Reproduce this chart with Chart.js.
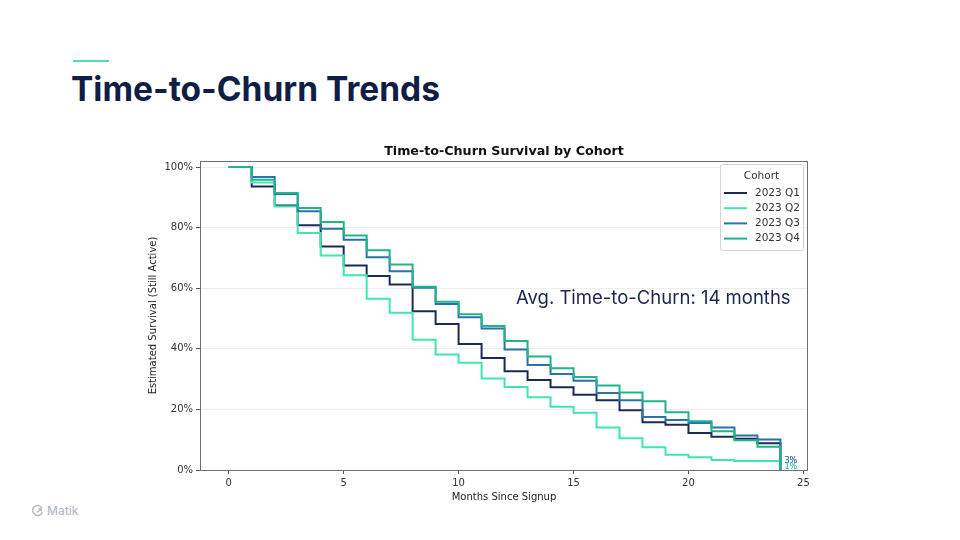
<!DOCTYPE html>
<html>
<head>
<meta charset="utf-8">
<script src="https://cdn.jsdelivr.net/npm/chart.js@4.4.3/dist/chart.umd.min.js"></script>
<style>
  body { margin: 0; background: #fff; }
  .slide { position: relative; width: 960px; height: 540px; overflow: hidden; font-family: Inter, sans-serif; }
  .accent { position: absolute; left: 73px; top: 60px; width: 36px; height: 2px; background: #4fdcb4; }
  h1 { position: absolute; left: 71px; top: 73px; margin: 0; font-size: 33.5px; line-height: 1; font-weight: 700; color: #111d45; white-space: nowrap; }
  .chartBox { position: absolute; left: 140px; top: 138px; width: 728px; height: 372px; }
  .note { position: absolute; left: 516px; top: 288px; font-size: 18.5px; line-height: 1; color: #1b2553; white-space: nowrap; }
  .logo { position: absolute; left: 31px; top: 503px; display: flex; align-items: center; gap: 3px; font-size: 12px; color: #b7bbc6; font-weight: 500; }
</style>
</head>
<body>
<div class="slide">
  <div class="accent"></div>
  <h1>Time-to-Churn Trends</h1>
  <div class="chartBox"><canvas id="churnChart"></canvas></div>
  <div class="note">Avg. Time-to-Churn: 14 months</div>
  <div class="logo">
    <svg width="13" height="13" viewBox="0 0 13 13">
      <path d="M11 4.2 A5 5 0 1 0 11.3 8.2" fill="none" stroke="#b7bbc6" stroke-width="1.5"/>
      <path d="M6.2 8.6 L10 4.8 M7.4 4.6 L10.2 4.6 L10.2 7.4" fill="none" stroke="#b7bbc6" stroke-width="1.4"/>
    </svg>
    <span>Matik</span>
  </div>
</div>
<script>
// months since signup
const months = [0, 1, 2, 3, 4, 5, 6, 7, 8, 9, 10, 11, 12, 13, 14, 15, 16, 17, 18, 19, 20, 21, 22, 23, 24];
const cohorts = ['2023 Q1', '2023 Q2', '2023 Q3', '2023 Q4'];

// survival % per cohort
const q1Survival = [100, 93.6, 87.3, 80.8, 73.8, 67.5, 64.0, 61.2, 52.4, 48.2, 41.6, 37.0, 32.6, 29.7, 27.3, 24.8, 23.0, 19.7, 15.8, 14.9, 12.2, 11.0, 10.3, 8.8, 0];
const q2Survival = [100, 94.9, 87.0, 78.2, 70.8, 64.3, 56.5, 51.9, 43.0, 38.1, 35.4, 30.2, 27.4, 24.0, 20.9, 18.9, 14.0, 10.5, 7.5, 5.0, 4.2, 3.3, 3.0, 3.0, 0];
const q3Survival = [100, 96.7, 91.1, 85.4, 79.6, 76.0, 70.2, 65.6, 60.2, 54.8, 50.4, 46.7, 39.8, 34.7, 31.7, 29.5, 25.4, 23.0, 17.5, 16.5, 15.5, 14.0, 11.4, 10.1, 0];
const q4Survival = [100, 95.8, 91.4, 86.5, 81.9, 77.4, 72.5, 67.8, 60.5, 55.5, 51.4, 47.5, 42.6, 37.5, 33.6, 30.7, 27.9, 25.6, 22.7, 19.1, 16.1, 12.8, 9.8, 7.7, 0];
const endLabels = [3, 1, 3, 1];
const yTicks = [0, 20, 40, 60, 80, 100];
const chartTitle = 'Time-to-Churn Survival by Cohort';

const colors = ['#1c2a5a', '#3fe6b2', '#2b73a6', '#20b48b'];
const series = [q1Survival, q2Survival, q3Survival, q4Survival];

Chart.defaults.font.family = '"DejaVu Sans", sans-serif';
Chart.defaults.color = '#333';

const decorations = {
  id: 'decorations',
  afterDatasetsDraw(chart) {
    const { ctx, chartArea: a, scales: { x, y } } = chart;
    ctx.save();
    // end-of-curve labels
    ctx.font = '8px "DejaVu Sans"';
    ctx.textBaseline = 'middle';
    ctx.textAlign = 'left';
    chart.data.datasets.forEach((ds, i) => {
      ctx.fillStyle = ds.borderColor;
      ctx.globalAlpha = 0.8;
      ctx.fillText(endLabels[i] + '%', x.getPixelForValue(months[months.length - 1]) + 4, y.getPixelForValue(endLabels[i]));
    });
    ctx.globalAlpha = 1;
    // plot frame
    ctx.strokeStyle = '#6f6f6f';
    ctx.lineWidth = 1;
    ctx.strokeRect(Math.round(a.left) + 0.5, Math.round(a.top) + 0.5, Math.round(a.right - a.left) - 1, Math.round(a.bottom - a.top));
    // title centred over the plot area
    ctx.fillStyle = '#111';
    ctx.font = 'bold 12.7px "DejaVu Sans"';
    ctx.textAlign = 'center';
    ctx.fillText(chartTitle, (a.left + a.right) / 2, a.top - 9);
    ctx.restore();
  },
  afterDraw(chart) {
    const { ctx, chartArea: a } = chart;
    const bw = 83, bh = 86;
    const bx = a.right - 88, by = a.top + 3;
    ctx.save();
    ctx.fillStyle = 'rgba(255,255,255,0.85)';
    ctx.strokeStyle = '#d4d4d4';
    ctx.lineWidth = 1;
    ctx.beginPath();
    ctx.roundRect(bx + 0.5, by + 0.5, bw, bh, 2);
    ctx.fill();
    ctx.stroke();
    ctx.fillStyle = '#333';
    ctx.font = '10.5px "DejaVu Sans"';
    ctx.textBaseline = 'middle';
    ctx.textAlign = 'center';
    ctx.fillText('Cohort', bx + bw / 2, by + 12.5);
    ctx.textAlign = 'left';
    cohorts.forEach((c, i) => {
      const ly = by + 29 + i * 15.2;
      ctx.strokeStyle = colors[i];
      ctx.lineWidth = 2;
      ctx.beginPath();
      ctx.moveTo(bx + 4, ly);
      ctx.lineTo(bx + 27, ly);
      ctx.stroke();
      ctx.fillStyle = '#333';
      ctx.fillText(c, bx + 35, ly);
    });
    ctx.restore();
  }
};

new Chart(document.getElementById('churnChart'), {
  type: 'line',
  data: {
    datasets: series.map((vals, i) => ({
      label: cohorts[i],
      data: months.map((m, k) => ({ x: m, y: vals[k] })),
      borderColor: colors[i],
      backgroundColor: colors[i],
      borderWidth: 2,
      pointRadius: 0,
      stepped: true,
      fill: false,
      order: series.length - 1 - i
    }))
  },
  options: {
    responsive: true,
    maintainAspectRatio: false,
    animation: false,
    events: [],
    layout: { padding: { top: 23, right: 60, bottom: 0, left: 0 } },
    plugins: {
      legend: { display: false },
      tooltip: { enabled: false },
      title: { display: false }
    },
    scales: {
      x: {
        type: 'linear',
        min: -1.25,
        max: 25.2,
        border: { display: false },
        grid: { drawOnChartArea: false, drawTicks: true, tickLength: 4, tickColor: '#555' },
        ticks: { stepSize: 5, includeBounds: false, padding: 3, font: { size: 10 }, color: '#333' },
        title: { display: true, text: 'Months Since Signup', font: { size: 10 }, color: '#222', padding: { top: 0, bottom: 7 } },
        afterFit: (s) => { s.height = 40; }
      },
      y: {
        min: 0,
        max: 102,
        border: { display: false },
        grid: { color: '#ededed', lineWidth: 1, tickLength: 4, tickColor: '#555' },
        afterBuildTicks: (s) => { s.ticks = yTicks.map(v => ({ value: v })); },
        ticks: { padding: 3, font: { size: 10 }, color: '#333', callback: (v) => v + '%' },
        title: { display: true, text: 'Estimated Survival (Still Active)', font: { size: 10 }, color: '#222', padding: { top: 7, bottom: 0 } },
        afterFit: (s) => { s.width = 60; }
      }
    }
  },
  plugins: [decorations]
});
</script>
</body>
</html>
